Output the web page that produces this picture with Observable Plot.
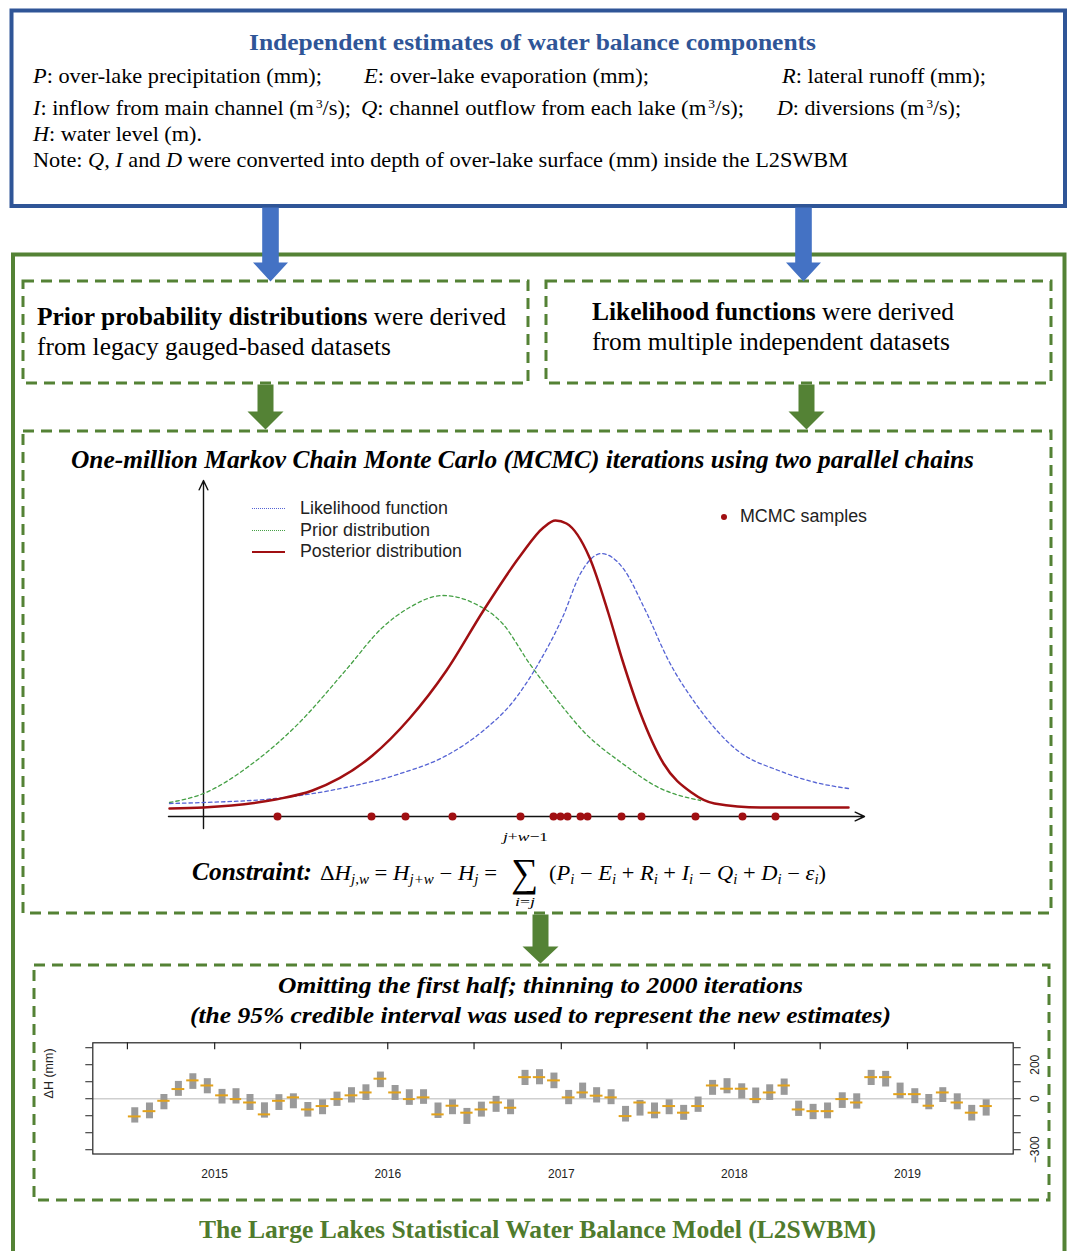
<!DOCTYPE html>
<html><head><meta charset="utf-8">
<script src="https://cdn.jsdelivr.net/npm/d3@7"></script>
<script src="https://cdn.jsdelivr.net/npm/@observablehq/plot@0.6"></script>
<style>
body{margin:0;background:#fff}
#root{position:relative;width:1073px;height:1251px;overflow:hidden;background:#fff}
.t{position:absolute;white-space:nowrap;transform-origin:0 50%}
.t sub{font-size:0.66em;vertical-align:-0.3em;line-height:0}
.t sup{font-size:0.6em;vertical-align:0.6em;line-height:0;margin-left:2px}
.abs{position:absolute}
</style></head><body><div id="root"></div><script>
// ---------- data ----------
// distribution curves: [position along parameter axis, density height]
const likelihoodCurve = [[-34,13],[0,14],[72,18],[142,29],[197,43],[243,61],[280,86],[308,113],[335,153],[359,199],[377,243],[398,263],[419,249],[442,206],[465,156],[492,113],[534,66],[575,46],[612,34],[645,28]];
const priorCurve = [[-34,14],[0,23],[49,53],[95,93],[142,146],[179,189],[206,209],[239,221],[271,213],[299,193],[326,153],[354,116],[382,83],[419,53],[455,29],[497,16]];
const posteriorCurve = [[-34,8],[0,9],[72,17],[109,26],[169,61],[206,98],[243,146],[280,206],[317,261],[340,289],[352,296],[363,293],[386,259],[405,203],[419,156],[437,103],[460,53],[488,24],[511,13],[557,9],[645,9]];
const mcmcSamples = [74,168,202,249,317,350,357,364,377,384,418,438,492,539,572];
const curveAxes = [{x1:0,y1:-12,x2:0,y2:336},{x1:-35,y1:0,x2:661,y2:0}];
const legendItems = ["Likelihood function","Prior distribution","Posterior distribution"];

// monthly ΔH (mm), Jul 2014 – Jun 2019
const firstMonth = "2014-07", monthCount = 60;
const dhMedian = [-104,-73,-12,57,108,78,20,-2,-22,-92,-12,8,-63,-43,-2,20,37,118,37,-2,8,-92,-41,-82,-63,-22,-53,127,127,108,8,37,18,8,-102,-22,-82,-43,-82,-43,78,59,59,-2,37,78,-63,-73,-73,-2,-22,127,127,27,27,-41,37,-22,-82,-43];
const dhUpper = [-53,-25,25,102,147,118,55,59,25,-24,24,29,-22,-6,39,65,82,157,78,53,53,-25,-6,-57,-20,14,-6,167,171,151,49,92,65,53,-45,-10,-25,-6,-39,10,108,118,88,63,82,116,-14,-33,-25,35,29,167,161,92,59,25,65,29,-39,-6];
const dhLower = [-143,-118,-65,14,55,29,-31,-31,-69,-114,-69,-59,-108,-94,-45,-25,-10,65,-10,-39,-33,-116,-94,-151,-108,-80,-94,78,82,59,-35,0,-25,-35,-137,-102,-118,-94,-127,-80,20,29,-2,-29,-10,20,-104,-123,-118,-57,-61,78,69,0,-29,-65,-22,-65,-131,-102];
const yTicks = [-300,-200,-100,0,100,200,300];
const yLabelled = [-300,0,200];
const yearLabels = ["2015","2016","2017","2018","2019"];

// ---------- styles ----------
const SERIF = '"Liberation Serif","Times New Roman",serif';
const SANS = '"Liberation Sans",Arial,sans-serif';
const MATH = '"Liberation Serif","DejaVu Serif",serif';
const BLUE_BORDER = "#2F5597", BLUE_ARROW = "#4472C4", GREEN = "#548235", GREEN_TXT = "#4F7B2D";
const RED = "#A00F12", BLUE_D = "#5563D4", GREEN_D = "#45A045";

const root = document.getElementById("root");

// ---------- frame: boxes and arrows ----------
const topBox = [{x1:11.5,y1:10.5,x2:1065,y2:206}];
const outerBox = [{x1:13,y1:254.5,x2:1064.5,y2:1270}];
const dashedBoxes = [
  {x1:23,y1:281,x2:528,y2:383},
  {x1:546,y1:281,x2:1051,y2:383},
  {x1:23,y1:431,x2:1051,y2:913},
  {x1:34,y1:965,x2:1049,y2:1200}
];
function downArrow(id, cx, yTop, yHead, yTip, s, h) {
  return [[cx-s,yTop],[cx+s,yTop],[cx+s,yHead],[cx+h,yHead],[cx,yTip],[cx-h,yHead],[cx-s,yHead]].map(([x,y]) => ({id,x,y}));
}
const blueArrows = [...downArrow("b1",270,207,262,281,8.3,17.5), ...downArrow("b2",803,207,262,281,8.3,17.5)];
const greenArrows = [...downArrow("g1",265,384,411,429,8,18), ...downArrow("g2",806,384,411,429,8,18), ...downArrow("g3",540,914,946,963,8,18)];

const bg = Plot.plot({
  width: 1073, height: 1251, margin: 0,
  x: {domain:[0,1073], range:[0,1073], axis:null},
  y: {domain:[0,1251], range:[0,1251], axis:null},
  style: {background:"transparent"},
  marks: [
    Plot.rect(topBox, {x1:"x1",x2:"x2",y1:"y1",y2:"y2", fill:"none", stroke:BLUE_BORDER, strokeWidth:4}),
    Plot.rect(outerBox, {x1:"x1",x2:"x2",y1:"y1",y2:"y2", fill:"none", stroke:GREEN, strokeWidth:4}),
    Plot.rect(dashedBoxes, {x1:"x1",x2:"x2",y1:"y1",y2:"y2", fill:"none", stroke:GREEN, strokeWidth:3, strokeDasharray:"11,7"}),
    Plot.line(blueArrows, {x:"x", y:"y", z:"id", fill:BLUE_ARROW, stroke:"none", curve:"linear-closed"}),
    Plot.line(greenArrows, {x:"x", y:"y", z:"id", fill:GREEN, stroke:"none", curve:"linear-closed"})
  ]
});
bg.classList.add("abs"); bg.style.left = "0px"; bg.style.top = "0px";
root.appendChild(bg);

// ---------- text ----------
function put(html, o) {
  const d = document.createElement("div");
  d.className = "t";
  d.innerHTML = html;
  const lh = o.lh || o.size;
  Object.assign(d.style, {
    fontFamily: o.font || SERIF, fontSize: o.size + "px", lineHeight: lh + "px",
    fontWeight: o.bold ? "bold" : "normal", fontStyle: o.italic ? "italic" : "normal",
    color: o.color || "#000", left: o.x1 + "px", top: (o.cy - 0.5 * lh) + "px"
  });
  root.appendChild(d);
  if (o.x2) {
    const w = d.getBoundingClientRect().width;
    d.style.transform = `scaleX(${(o.x2 - o.x1) / w})`;
  }
  return d;
}
put('Independent estimates of water balance components', {x1:249,x2:816,cy:42,size:24,bold:1,color:BLUE_BORDER});
put('<i>P</i>: over-lake precipitation (mm);', {x1:33,x2:322,cy:77,size:21.5});
put('<i>E</i>: over-lake evaporation (mm);', {x1:364,x2:649,cy:77,size:21.5});
put('<i>R</i>: lateral runoff (mm);', {x1:782,x2:986,cy:77,size:21.5});
put('<i>I</i>: inflow from main channel (m<sup>3</sup>/s);', {x1:33,x2:351,cy:109,size:21.5});
put('<i>Q</i>: channel outflow from each lake (m<sup>3</sup>/s);', {x1:361,x2:744,cy:109,size:21.5});
put('<i>D</i>: diversions (m<sup>3</sup>/s);', {x1:777,x2:961,cy:109,size:21.5});
put('<i>H</i>: water level (m).', {x1:33,x2:202,cy:135,size:21.5});
put('Note: <i>Q, I</i> and <i>D</i> were converted into depth of over-lake surface (mm) inside the L2SWBM', {x1:33,x2:848,cy:161,size:21.5});

put('<b>Prior probability distributions</b> were derived', {x1:37,x2:506,cy:316,size:25});
put('from legacy gauged-based datasets', {x1:37,x2:391,cy:346,size:25});
put('<b>Likelihood functions</b> were derived', {x1:592,x2:954,cy:311,size:25});
put('from multiple independent datasets', {x1:592,x2:950,cy:341,size:25});

put('One-million Markov Chain Monte Carlo (MCMC) iterations using two parallel chains', {x1:71,x2:974,cy:460,size:24.5,bold:1,italic:1});

put('<b><i>Constraint:</i></b>', {x1:192,x2:312,cy:872,size:24.5});
put('Δ<i>H</i><sub><i>j,w</i></sub> = <i>H</i><sub><i>j+w</i></sub> − <i>H</i><sub><i>j</i></sub> =', {x1:320,x2:497,cy:873,size:20.5,font:MATH});
put('∑', {x1:511,x2:538,cy:873,size:40,lh:30,font:MATH});
put('<i>j</i>+<i>w</i>−1', {x1:503,x2:548,cy:836,size:13,lh:11,font:MATH});
put('<i>i</i>=<i>j</i>', {x1:515,x2:535,cy:901,size:13,lh:11,font:MATH});
put('(<i>P<sub>i</sub></i> − <i>E<sub>i</sub></i> + <i>R<sub>i</sub></i> + <i>I<sub>i</sub></i> − <i>Q<sub>i</sub></i> + <i>D<sub>i</sub></i> − <i>ε<sub>i</sub></i>)', {x1:549,x2:826,cy:873,size:20.5,font:MATH});

put('Omitting the first half; thinning to 2000 iterations', {x1:278,x2:803,cy:985,size:24,bold:1,italic:1});
put('(the 95% credible interval was used to represent the new estimates)', {x1:190,x2:891,cy:1015,size:24,bold:1,italic:1});
put('The Large Lakes Statistical Water Balance Model (L2SWBM)', {x1:199,x2:876,cy:1230,size:26,bold:1,color:GREEN_TXT});

// ---------- chart 1: prior / likelihood / posterior ----------
const toPts = a => a.map(([x,y]) => ({x,y}));
const c1 = Plot.plot({
  width: 720, height: 360, margin: 0,
  x: {domain:[-43,677], axis:null},
  y: {domain:[-14,346], axis:null},
  style: {background:"transparent", overflow:"visible"},
  marks: [
    Plot.arrow(curveAxes, {x1:"x1",y1:"y1",x2:"x2",y2:"y2", stroke:"#111", strokeWidth:1.4, headLength:11, headAngle:50}),
    Plot.line(toPts(priorCurve), {x:"x", y:"y", curve:"monotone-x", stroke:GREEN_D, strokeWidth:1.3, strokeDasharray:"3.5,3"}),
    Plot.line(toPts(likelihoodCurve), {x:"x", y:"y", curve:"monotone-x", stroke:BLUE_D, strokeWidth:1.3, strokeDasharray:"3.5,3"}),
    Plot.line(toPts(posteriorCurve), {x:"x", y:"y", curve:"monotone-x", stroke:RED, strokeWidth:2.5}),
    Plot.dot(mcmcSamples, {x:d => d, y:() => 0, r:4, fill:RED, stroke:"none"})
  ]
});
c1.classList.add("abs"); c1.style.left = "160px"; c1.style.top = "470px";
root.appendChild(c1);

// legend for chart 1
const legendStyles = [
  {border:`1.3px dotted ${BLUE_D}`},
  {border:`1.3px dotted ${GREEN_D}`},
  {border:`2.5px solid ${RED}`}
];
const legendWidths = [148, 130, 162];
legendItems.forEach((name, i) => {
  const cy = 509 + i * 21.5;
  const ln = document.createElement("div");
  ln.className = "abs";
  Object.assign(ln.style, {left:"252px", width:"33px", height:"0px", top:(cy - 1) + "px", borderTop: legendStyles[i].border});
  root.appendChild(ln);
  put(name, {x1:300, x2:300 + legendWidths[i], cy, size:17.5, font:SANS, color:"#222"});
});
const dotEl = document.createElement("div");
dotEl.className = "abs";
Object.assign(dotEl.style, {left:"721px", top:"514px", width:"6px", height:"6px", borderRadius:"50%", background:RED});
root.appendChild(dotEl);
put('MCMC samples', {x1:740, x2:867, cy:517, size:17.5, font:SANS, color:"#222"});

// ---------- chart 2: monthly ΔH credible intervals ----------
const m0 = d3.utcParse("%Y-%m")(firstMonth);
const months = d3.range(monthCount).map(i => d3.utcMonth.offset(m0, i));
const rows = months.map((m, i) => {
  const next = d3.utcMonth.offset(m, 1);
  return {m, next, mid: new Date((+m + +next) / 2), med: dhMedian[i], lo: dhLower[i], hi: dhUpper[i]};
});
const yearTicks = yearLabels.map(y => d3.utcParse("%Y")(y));
const halfYearTicks = d3.utcMonth.every(6).range(d3.utcParse("%Y-%m")("2014-07"), d3.utcParse("%Y-%m")("2019-02"));
const yMin = -325, yMax = 329;
const c2 = Plot.plot({
  width: 1005, height: 160, marginLeft: 52.3, marginRight: 32.3, marginTop: 12.3, marginBottom: 36.5,
  x: {type:"utc", domain:[d3.utcParse("%Y-%m-%d")("2014-04-19"), d3.utcParse("%Y-%m-%d")("2019-08-12")], axis:null},
  y: {domain:[yMin, yMax], axis:null},
  style: {background:"transparent", fontFamily: SANS, fontSize:"12px", color:"#222", overflow:"visible"},
  marks: [
    Plot.ruleY([0], {stroke:"#cfcfcf", strokeWidth:1.3}),
    Plot.ruleX(rows, {x:"mid", y1:"lo", y2:"hi", stroke:"#9a9a9a", strokeWidth:7}),
    Plot.ruleY(rows, {y:"med", x1:d => d3.utcDay.offset(d.m, 2), x2:d => d3.utcDay.offset(d.next, -2), stroke:"#E3A21A", strokeWidth:2}),
    Plot.frame({stroke:"#222", strokeWidth:1.2}),
    Plot.axisY({anchor:"left", ticks:yTicks, tickSize:7, tickFormat:() => "", label:null}),
    Plot.axisY({anchor:"right", ticks:yTicks, tickSize:7, tickPadding:19, tickRotate:-90, fontSize:12, tickFormat:d => yLabelled.includes(d) ? d3.format("d")(d) : "", label:null}),
    Plot.axisX({anchor:"bottom", ticks:yearTicks, tickSize:0, tickPadding:15, fontSize:12, tickFormat:d3.utcFormat("%Y"), label:null}),
    Plot.ruleX(halfYearTicks, {x:d => d, y1:yMax, y2:yMax - 41, stroke:"#222", strokeWidth:1.2}),
    Plot.text(["ΔH (mm)"], {frameAnchor:"left", dx:-44, rotate:-90, fontSize:12.5, fill:"#222"})
  ]
});
c2.classList.add("abs"); c2.style.left = "40px"; c2.style.top = "1030px";
root.appendChild(c2);
</script></body></html>
